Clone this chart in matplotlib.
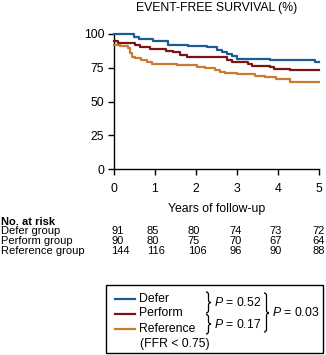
import matplotlib
matplotlib.use("Agg")
import matplotlib.pyplot as plt
from matplotlib.lines import Line2D
from matplotlib.patches import Rectangle, PathPatch
from matplotlib.path import Path

plt.rcParams['font.family'] = ['Liberation Sans', 'DejaVu Sans']
plt.rcParams['mathtext.fontset'] = 'custom'
plt.rcParams['mathtext.rm'] = 'Liberation Sans'
plt.rcParams['mathtext.it'] = 'Liberation Sans:italic'

# Kaplan-Meier step data (years, event-free %)
defer_t = [0, 0.49, 0.6, 0.72, 0.96, 1.32, 1.81, 2.26, 2.5, 2.63, 2.75, 2.87, 2.99, 3.8, 4.9, 5.0]
defer_v = [100, 97.5, 96.5, 96, 95, 92, 91, 90, 88.5, 87, 85, 83.5, 81.5, 80.5, 79.3, 79.3]

perform_t = [0, 0.1, 0.5, 0.63, 0.88, 1.28, 1.45, 1.61, 1.77, 2.75, 2.87, 3.28, 3.36, 3.8, 3.9, 4.3, 5.0]
perform_v = [95, 93, 91.7, 90.2, 88.7, 87.5, 86.3, 84.3, 82.6, 80.5, 79, 77.6, 76.4, 75.2, 74.2, 73, 73]

reference_t = [0, 0.15, 0.35, 0.39, 0.43, 0.51, 0.67, 0.8, 0.92, 1.53, 2.02, 2.22, 2.46, 2.58,
               2.7, 2.99, 3.44, 3.68, 3.96, 4.29, 5.0]
reference_v = [92, 91.2, 89.4, 85.7, 83.2, 82, 81, 79.5, 77.8, 77, 75.8, 75, 73.6, 72.1,
               71, 70.2, 69.1, 67.9, 66.4, 64.7, 64.7]

years = [0, 1, 2, 3, 4, 5]
y_ticks = [0, 25, 50, 75, 100]

risk_groups = ["Defer group", "Perform group", "Reference group"]
risk_defer = [91, 85, 80, 74, 73, 72]
risk_perform = [90, 80, 75, 70, 67, 64]
risk_reference = [144, 116, 106, 96, 90, 88]

legend_labels = ["Defer", "Perform", "Reference"]
p_values = ["0.52", "0.17", "0.03"]

c_defer = "#1d5b98"
c_perform = "#7c1414"
c_ref = "#cc7a30"
fs = 8.8
fs_table = 8

W, H = 326, 355
fig = plt.figure(figsize=(W / 100, H / 100), dpi=100)


def fx(px):
    return px / W


def fy(py):
    return 1 - py / H


ax = fig.add_axes([fx(114), fy(169), fx(319) - fx(114), fy(34) - fy(169)])
for t, v, c in [(defer_t, defer_v, c_defer), (perform_t, perform_v, c_perform),
                (reference_t, reference_v, c_ref)]:
    ax.step(t, v, where='post', color=c, lw=1.6, clip_on=False, zorder=3)

ax.set_xlim(0, 5)
ax.set_ylim(0, 100)
ax.set_xticks(years)
ax.set_yticks(y_ticks)
ax.spines['top'].set_visible(False)
ax.spines['right'].set_visible(False)
ax.spines['left'].set_linewidth(1.0)
ax.spines['bottom'].set_linewidth(1.0)
ax.tick_params(axis='both', direction='out', length=4, width=1.0, labelsize=fs, pad=3)
ax.tick_params(axis='x', pad=6)
ax.set_xlabel("Years of follow-up", fontsize=fs, labelpad=6)

fig.text(fx(217), fy(8), "EVENT-FREE SURVIVAL (%)", fontsize=fs, ha='center', va='center')

# number at risk table
fig.text(fx(1), fy(221.6), "No. at risk", fontsize=fs_table, fontweight='bold', va='center')
col_left = [-0.06, 0.8, 1.8, 2.82, 3.8, 4.84]
for row, (name, vals) in enumerate(zip(risk_groups, [risk_defer, risk_perform, risk_reference])):
    ypos = fy(231.5 + row * 9.9)
    fig.text(fx(1), ypos, name, fontsize=fs_table, va='center')
    for xl, val in zip(col_left, vals):
        xp = 114 + xl * 41
        fig.text(fx(xp), ypos, str(val), fontsize=fs_table, va='center', ha='left')

# legend box
fig.patches.append(Rectangle((fx(106), fy(353)), fx(323) - fx(106), fy(285) - fy(353),
                             transform=fig.transFigure, fill=False, lw=1.0, ec='black'))
for i, (lab, c) in enumerate(zip(legend_labels, [c_defer, c_perform, c_ref])):
    yy = 298.5 + i * 15
    fig.lines.append(Line2D([fx(115), fx(135)], [fy(yy), fy(yy)], color=c, lw=1.6,
                            transform=fig.transFigure))
    fig.text(fx(139.5), fy(yy), lab, fontsize=fs, va='center')
fig.text(fx(139.5), fy(344), "(FFR < 0.75)", fontsize=fs, va='center')


def brace(x, top, bottom, tip, w=5):
    # right-facing curly brace in pixel coordinates
    xm = x + w * 0.5
    xt = x + w
    r = 2.5
    verts = [(x, top), (xm, top), (xm, top + r),
             (xm, tip - r), (xm, tip), (xt, tip),
             (xm, tip), (xm, tip + r),
             (xm, bottom - r), (xm, bottom), (x, bottom)]
    codes = [Path.MOVETO, Path.CURVE3, Path.CURVE3,
             Path.LINETO, Path.CURVE3, Path.CURVE3,
             Path.CURVE3, Path.CURVE3,
             Path.LINETO, Path.CURVE3, Path.CURVE3]
    verts = [(fx(a), fy(b)) for a, b in verts]
    fig.patches.append(PathPatch(Path(verts, codes), transform=fig.transFigure,
                                 fill=False, lw=0.9, ec='black'))


brace(206, 292, 313, 302.5)
brace(206, 314.5, 334, 324)
brace(264, 293, 332, 313)

fig.text(fx(213.5), fy(302), r"$P$ = " + p_values[0], fontsize=fs, va='center')
fig.text(fx(213.5), fy(324), r"$P$ = " + p_values[1], fontsize=fs, va='center')
fig.text(fx(271.5), fy(313), r"$P$ = " + p_values[2], fontsize=fs, va='center')

fig.savefig("out.png", dpi=100)
